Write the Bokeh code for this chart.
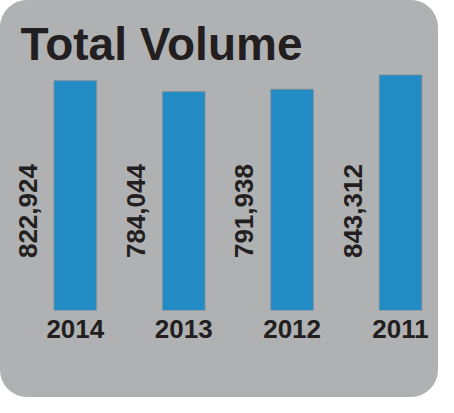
from bokeh.plotting import figure
from bokeh.models import Range1d, FixedTicker, ColumnDataSource
from bokeh.transform import dodge
from bokeh.core.properties import value
from bokeh.embed import file_html
from bokeh.resources import INLINE

# ---- data ----
years = ["2014", "2013", "2012", "2011"]
volumes = [822924, 784044, 791938, 843312]
value_labels = ["822,924", "784,044", "791,938", "843,312"]
positions = list(range(len(years)))

# ---- style ----
GRAY = "#B0B1B3"
BLUE = "#248CC4"
INK = "#231F20"
FONT = "Liberation Sans"
LABEL_Y = 355800  # vertical centre of the rotated value labels (data units)

src = ColumnDataSource(dict(x=positions, v=volumes, lab=value_labels))

p = figure(width=438, height=397, output_backend="svg", toolbar_location=None,
           x_range=Range1d(-0.69, 3.35), y_range=Range1d(0, 859000),
           min_border_left=0, min_border_right=0, min_border_top=70, min_border_bottom=87)
p.styles = {"border-radius": "27px", "overflow": "hidden", "background-color": GRAY}

p.background_fill_alpha = 0
p.border_fill_alpha = 0
p.outline_line_color = None
p.grid.visible = False
p.yaxis.visible = False

p.vbar(x="x", top="v", width=0.394, source=src, fill_color=BLUE,
       line_color="#8E8F91", line_width=1, line_alpha=0.7)

p.text(x=dodge("x", -0.44, range=p.x_range), y=LABEL_Y, text="lab", source=src,
       angle=1.5707963, text_align="center", text_baseline="middle",
       text_font=value(FONT), text_font_style="bold", text_font_size="26px", text_color=INK)

ax = p.xaxis[0]
ax.ticker = FixedTicker(ticks=positions)
ax.major_label_overrides = {i: y for i, y in zip(positions, years)}
ax.axis_line_color = None
ax.major_tick_line_color = None
ax.minor_tick_line_color = None
ax.major_label_text_font = FONT
ax.major_label_text_font_style = "bold"
ax.major_label_text_font_size = "26px"
ax.major_label_text_color = INK
ax.major_label_standoff = 3

p.title.text = "Total Volume"
p.title.text_font = FONT
p.title.text_font_style = "bold"
p.title.text_font_size = "46px"
p.title.text_color = INK
p.title.align = "left"
p.title.offset = 20
p.title.standoff = 1

open("out.html", "w").write(file_html(p, INLINE))
